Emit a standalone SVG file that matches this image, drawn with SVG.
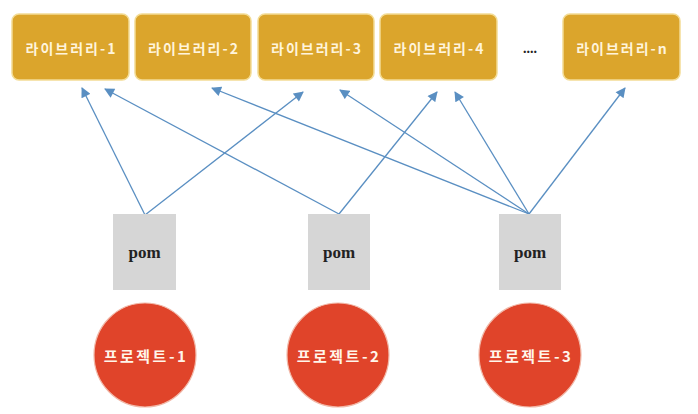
<svg xmlns="http://www.w3.org/2000/svg" width="698" height="414" viewBox="0 0 698 414">
<defs>
<marker id="ah" viewBox="0 0 10 10" refX="9" refY="5" markerWidth="11" markerHeight="10" markerUnits="userSpaceOnUse" orient="auto">
<path d="M0,0 L10,5 L0,10 z" fill="#5a8fc2"/>
</marker>
</defs>
<style>
.lib{fill:#dba52c;stroke:#f3dc95;stroke-width:1.5}
.libt{font-family:"Noto Sans CJK KR","Liberation Serif",serif;font-weight:bold;font-size:14px;letter-spacing:2px;fill:#fff4dc;text-anchor:middle;dominant-baseline:central}
.pom{fill:#d6d6d6}
.pomt{font-family:"Liberation Serif",serif;font-weight:bold;font-size:17px;fill:#222;text-anchor:middle;dominant-baseline:central}
.prj{fill:#e0442a;stroke:#f1b8a8;stroke-width:1.2}
.prjt{font-family:"Noto Sans CJK KR","Liberation Serif",serif;font-weight:bold;font-size:15px;letter-spacing:2.5px;fill:#fff6ea;text-anchor:middle;dominant-baseline:central}
.c line{stroke:#5a8fc2;stroke-width:1.3;marker-end:url(#ah)}
</style>
<rect width="698" height="414" fill="#ffffff"/>
<g id="lib1"><rect class="lib" x="12" y="14" width="117" height="66" rx="7"/><text class="libt" x="71.5" y="48">라이브러리-1</text></g>
<g id="lib2"><rect class="lib" x="135" y="14" width="116" height="66" rx="7"/><text class="libt" x="194" y="48">라이브러리-2</text></g>
<g id="lib3"><rect class="lib" x="258" y="14" width="116" height="66" rx="7"/><text class="libt" x="317" y="48">라이브러리-3</text></g>
<g id="lib4"><rect class="lib" x="380" y="14" width="117" height="66" rx="7"/><text class="libt" x="439.5" y="48">라이브러리-4</text></g>
<g id="dots"><text x="530" y="48" font-family="Liberation Serif, serif" font-weight="bold" font-size="14" fill="#222" text-anchor="middle" dominant-baseline="central">....</text></g>
<g id="libn"><rect class="lib" x="563" y="14" width="117" height="66" rx="7"/><text class="libt" x="622.5" y="48">라이브러리-n</text></g>
<g class="c" id="connectors">
<line x1="145" y1="215" x2="82" y2="88"/>
<line x1="145" y1="215" x2="303" y2="92"/>
<line x1="339" y1="214" x2="105" y2="89"/>
<line x1="339" y1="214" x2="437" y2="92"/>
<line x1="529" y1="214" x2="212" y2="88"/>
<line x1="529" y1="214" x2="340" y2="90"/>
<line x1="529" y1="214" x2="455" y2="92"/>
<line x1="529" y1="214" x2="625" y2="88"/>
</g>
<g id="pom1"><rect class="pom" x="113" y="214" width="63" height="76"/><text class="pomt" x="144.5" y="252">pom</text></g>
<g id="pom2"><rect class="pom" x="308" y="214" width="62" height="76"/><text class="pomt" x="339" y="252">pom</text></g>
<g id="pom3"><rect class="pom" x="499" y="214" width="62" height="76"/><text class="pomt" x="530" y="252">pom</text></g>
<g id="prj1"><ellipse class="prj" cx="145" cy="355" rx="51" ry="52"/><text class="prjt" x="146" y="355">프로젝트-1</text></g>
<g id="prj2"><ellipse class="prj" cx="338" cy="355" rx="51" ry="52"/><text class="prjt" x="339" y="355">프로젝트-2</text></g>
<g id="prj3"><ellipse class="prj" cx="530" cy="355" rx="51" ry="52"/><text class="prjt" x="531" y="355">프로젝트-3</text></g>
</svg>
